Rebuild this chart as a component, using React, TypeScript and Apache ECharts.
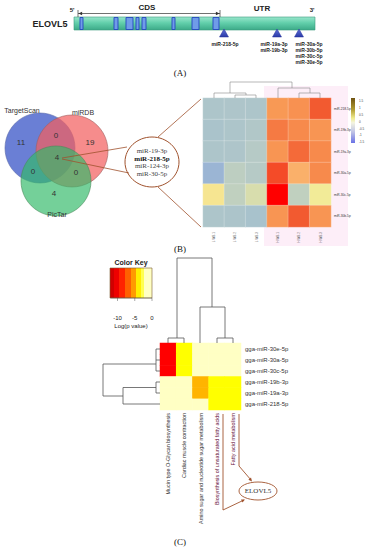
import React, { useEffect, useRef } from 'react';
import * as echarts from 'echarts';

// ---------- Panel A data ----------
const geneName = 'ELOVL5';
const exonX = [80, 114, 126, 136, 142, 172, 192, 213];
const exonW = [3, 4, 7, 3, 4, 3, 7, 6];
const siteX = [224, 277, 299];
const siteLabelX = [225, 274, 309];
const siteLabels = [
  ['miR-218-5p'],
  ['miR-19a-3p', 'miR-19b-3p'],
  ['miR-30a-5p', 'miR-30b-5p', 'miR-30c-5p', 'miR-30e-5p'],
];

// ---------- Panel B data ----------
const vennSets = ['TargetScan', 'miRDB', 'PicTar'];
// only TS, TS∩miRDB, only miRDB, all three, TS∩PicTar, miRDB∩PicTar, only PicTar
const vennCounts = [11, 0, 19, 4, 0, 0, 4];
const consensusMiRNAs = ['miR-19-3p', 'miR-218-5p', 'miR-124-3p', 'miR-30-5p'];

const exprCols = ['L-WB-1', 'L-WB-2', 'L-WB-3', 'H-WB-1', 'H-WB-2', 'H-WB-3'];
const exprRows = ['miR-218-5p', 'miR-19b-3p', 'miR-19a-3p', 'miR-30a-5p', 'miR-30c-5p', 'miR-30b-5p'];
const exprValues = [
  [-0.8, -0.78, -0.8, 0.7, 0.8, 1.2],
  [-0.85, -0.8, -0.7, 1.0, 0.9, 0.75],
  [-0.8, -0.78, -0.6, 0.75, 1.1, 0.9],
  [-1.15, -0.5, -0.6, 1.25, 0.45, 0.9],
  [0.05, -0.45, -0.2, 1.5, -0.45, -0.02],
  [-0.8, -0.82, -0.9, 0.75, 1.2, 0.75],
];
const exprScaleTicks = ['1.5', '1', '0.5', '0', '-0.5', '-1', '-1.5'];

// ---------- Panel C data ----------
const pathwayCols = [
  'Mucin type O-Glycan biosynthesis',
  'Cardiac muscle contraction',
  'Amino sugar and nucleotide sugar metabolism',
  'Biosynthesis of unsaturated fatty acids',
  'Fatty acid metabolism',
];
const pathwayRows = ['gga-miR-30e-5p', 'gga-miR-30a-5p', 'gga-miR-30c-5p', 'gga-miR-19b-3p', 'gga-miR-19a-3p', 'gga-miR-218-5p'];
const logP = [
  [-11, -3, -0.5, -0.5, -0.5],
  [-11, -3, -0.5, -0.5, -0.5],
  [-11, -3, -0.5, -0.5, -0.5],
  [-0.5, -0.5, -5, -3, -3],
  [-0.5, -0.5, -5, -3, -3],
  [-0.5, -0.5, -0.5, -3, -3],
];
const colorKeyTicks = [-10, -5, 0];

const SANS = '"Liberation Sans", Arial, sans-serif';
const SERIF = '"Liberation Serif", "Times New Roman", serif';
const BROWN = '#a0522d';
const DG = '#555';

function txt(text: string, x: number, y: number, font: string, fill = '#222', align = 'center', rotation = 0) {
  return {
    type: 'text',
    z: 20,
    x,
    y,
    rotation,
    style: {
      text,
      x: 0,
      y: 0,
      font,
      fill,
      textAlign: align,
      align,
      textVerticalAlign: 'middle',
      verticalAlign: 'middle',
    },
  };
}
function ln(x1: number, y1: number, x2: number, y2: number, stroke = DG, lw = 0.8) {
  return { type: 'line', z: 15, shape: { x1, y1, x2, y2 }, style: { stroke, lineWidth: lw } };
}
function pl(points: number[][], stroke = DG, lw = 0.8) {
  return { type: 'polyline', z: 15, shape: { points }, style: { stroke, lineWidth: lw, fill: null } };
}
function arrowHead(x1: number, y1: number, x2: number, y2: number, color: string, size = 4) {
  const a = Math.atan2(y2 - y1, x2 - x1);
  const p1 = [x2 - size * Math.cos(a - 0.45), y2 - size * Math.sin(a - 0.45)];
  const p2 = [x2 - size * Math.cos(a + 0.45), y2 - size * Math.sin(a + 0.45)];
  return { type: 'polygon', z: 16, shape: { points: [[x2, y2], p1, p2] }, style: { fill: color } };
}

export default function App() {
  const ref = useRef<HTMLDivElement>(null);
  useEffect(() => {
    document.body.style.margin = '0';
    const chart = echarts.init(ref.current!, null, { renderer: 'svg' });
    const g: any[] = [];

    // ---------- Panel A ----------
    g.push(txt(geneName, 50, 24, `bold 9px ${SANS}`, '#222'));
    g.push(txt("5'", 72, 10, `bold 6px ${SANS}`));
    g.push(txt("3'", 312, 10, `bold 6px ${SANS}`));
    g.push(txt('CDS', 147, 7, `bold 8px ${SANS}`));
    g.push(txt('UTR', 262, 8, `bold 8px ${SANS}`));
    // CDS arrow
    g.push(ln(78, 13.5, 220, 13.5, '#333', 0.7));
    g.push(ln(78, 10, 78, 17, '#333', 0.7));
    g.push(ln(220, 10, 220, 17, '#333', 0.7));
    g.push(arrowHead(90, 13.5, 78.5, 13.5, '#333', 4));
    g.push(arrowHead(208, 13.5, 219.5, 13.5, '#333', 4));
    // gene bar
    g.push({
      type: 'rect', z: 10,
      shape: { x: 74, y: 17, width: 241, height: 13 },
      style: {
        fill: new echarts.graphic.LinearGradient(0, 0, 0, 1, [
          { offset: 0, color: '#9ae6cc' },
          { offset: 0.45, color: '#62cfab' },
          { offset: 1, color: '#3caa88' },
        ]),
        stroke: '#3a9a7c', lineWidth: 0.6,
      },
    });
    exonX.forEach((x, i) => {
      g.push({
        type: 'rect', z: 11,
        shape: { x, y: 17.5, width: exonW[i], height: 12 },
        style: { fill: '#6f9ce8', stroke: '#2546c0', lineWidth: 0.9 },
      });
    });
    siteX.forEach((x, i) => {
      g.push({
        type: 'polygon', z: 12,
        shape: { points: [[x, 29], [x - 4.5, 37], [x + 4.5, 37]] },
        style: {
          fill: new echarts.graphic.LinearGradient(0, 0, 0, 1, [
            { offset: 0, color: '#5f70d8' },
            { offset: 1, color: '#2a3aa8' },
          ]),
          stroke: '#26339a', lineWidth: 0.5,
        },
      });
      siteLabels[i].forEach((s, j) => {
        g.push(txt(s, siteLabelX[i], 43.5 + j * 6, `bold 5px ${SANS}`, '#222'));
      });
    });
    g.push(txt('(A)', 180, 73, `9px ${SERIF}`, '#111'));

    // ---------- Panel B : Venn ----------
    g.push({ type: 'circle', z: 5, shape: { cx: 40, cy: 148, r: 35 }, style: { fill: 'rgba(80,104,206,0.85)', stroke: '#5a6aa8', lineWidth: 0.6 } });
    g.push({ type: 'circle', z: 6, shape: { cx: 72, cy: 151, r: 36 }, style: { fill: 'rgba(242,96,96,0.72)', stroke: '#a06060', lineWidth: 0.6 } });
    g.push({ type: 'circle', z: 7, shape: { cx: 56, cy: 181, r: 35 }, style: { fill: 'rgba(50,185,105,0.68)', stroke: '#4a8a5a', lineWidth: 0.6 } });
    g.push(txt(vennSets[0], 22, 110, `7px ${SANS}`, '#333'));
    g.push(txt(vennSets[1], 83, 112, `7px ${SANS}`, '#333'));
    g.push(txt(vennSets[2], 57, 214, `7px ${SANS}`, '#333'));
    const vennPos = [[21, 142], [56, 135], [90, 142], [57, 157], [33, 171], [76, 172], [54, 193]];
    vennCounts.forEach((c, i) => g.push(txt(String(c), vennPos[i][0], vennPos[i][1], `8px ${SANS}`, '#333')));
    // connecting lines
    g.push(ln(62, 158, 127, 147, BROWN, 0.8));
    g.push(ln(62, 159, 129, 173, BROWN, 0.8));
    g.push(ln(158, 137, 201, 99, BROWN, 0.8));
    g.push(ln(158, 187, 201, 227, BROWN, 0.8));
    g.push({ type: 'ellipse', z: 14, shape: { cx: 152, cy: 162, rx: 27, ry: 25 }, style: { fill: '#fff', stroke: BROWN, lineWidth: 1 } });
    consensusMiRNAs.forEach((m, i) => {
      g.push(txt(m, 152, 151 + i * 7.7, `${i === 1 ? 'bold ' : ''}7px ${SERIF}`, i === 1 ? '#111' : '#444'));
    });

    // ---------- Panel B : heatmap decorations ----------
    g.push({ type: 'rect', z: -1, shape: { x: 264, y: 86, width: 84, height: 160 }, style: { fill: '#fdeef8' } });
    // top dendrogram
    [
      [[230, 93], [230, 82], [292, 82], [292, 88]],
      [[214, 98], [214, 93], [246, 93], [246, 95]],
      [[235, 98], [235, 95], [256, 95], [256, 98]],
      [[278, 98], [278, 88], [310, 88], [310, 93]],
      [[299, 98], [299, 93], [320, 93], [320, 98]],
    ].forEach((p) => g.push(pl(p, '#888', 0.6)));
    // colour scale
    g.push({
      type: 'rect', z: 10,
      shape: { x: 351, y: 98, width: 4, height: 45 },
      style: {
        fill: new echarts.graphic.LinearGradient(0, 0, 0, 1, [
          { offset: 0, color: '#6e5212' },
          { offset: 0.25, color: '#b09a30' },
          { offset: 0.45, color: '#f0ec90' },
          { offset: 0.55, color: '#f4f4e0' },
          { offset: 0.75, color: '#c0c4e6' },
          { offset: 1, color: '#6a72e6' },
        ]),
      },
    });
    exprScaleTicks.forEach((t, i) => g.push(txt(t, 359, 101 + i * 6.8, `3px ${SANS}`, '#444', 'left')));
    g.push(txt('(B)', 180, 249, `9px ${SERIF}`, '#111'));

    // ---------- Panel C : colour key ----------
    g.push(txt('Color Key', 131, 262, `bold 7px ${SANS}`, '#222'));
    const keySteps = [
      [110, 114, '#d00000'],
      [114, 119, '#ee0000'],
      [119, 125, '#ff2200'],
      [125, 131, '#ff6000'],
      [131, 136, '#ff9a00'],
      [136, 141, '#ffee00'],
      [141, 144, '#ffff50'],
      [144, 152, '#ffffc4'],
    ];
    keySteps.forEach(([a, b, c]) => g.push({ type: 'rect', z: 10, shape: { x: a as number, y: 268, width: (b as number) - (a as number), height: 30 }, style: { fill: c as string } }));
    g.push({ type: 'rect', z: 11, shape: { x: 110, y: 268, width: 42, height: 30 }, style: { fill: null, stroke: '#7a5a30', lineWidth: 0.6 } });
    const keyX = (v: number) => 152 + v * 3.45;
    g.push(ln(keyX(-12), 298, 152, 298, '#555', 0.5));
    colorKeyTicks.forEach((t) => {
      g.push(ln(keyX(t), 298, keyX(t), 301, '#555', 0.5));
      g.push(txt(String(t), keyX(t), 318 - 0, `6px ${SANS}`, '#222'));
    });
    g.push(txt('Log(p value)', 131, 326, `6px ${SANS}`, '#222'));

    // top dendrogram C
    [
      [[177, 338], [177, 258], [212, 258], [212, 307]],
      [[168, 343], [168, 338], [184, 338], [184, 343]],
      [[200, 343], [200, 307], [225, 307], [225, 338]],
      [[217, 343], [217, 338], [233, 338], [233, 343]],
    ].forEach((p) => g.push(pl(p, DG, 0.8)));
    // left dendrogram C
    [
      [[160, 349], [156, 349], [156, 371], [160, 371]],
      [[156, 360], [160, 360]],
      [[156, 364], [103, 364], [103, 396], [123, 396]],
      [[160, 382], [156, 382], [156, 393], [160, 393]],
      [[156, 387.5], [123, 387.5], [123, 404], [160, 404]],
    ].forEach((p) => g.push(pl(p, DG, 0.8)));

    // ELOVL5 arrows
    g.push(pl([[223, 414], [223, 510], [244, 500]], BROWN, 0.9));
    g.push(arrowHead(223, 510, 245, 499.5, BROWN, 4));
    g.push(pl([[239, 414], [239, 466], [251, 480]], BROWN, 0.9));
    g.push(arrowHead(239, 466, 252, 481.5, BROWN, 4));
    g.push({ type: 'ellipse', z: 14, shape: { cx: 258, cy: 491, rx: 19, ry: 9 }, style: { fill: '#fff', stroke: BROWN, lineWidth: 0.9 } });
    g.push(txt('ELOVL5', 258, 491, `7px ${SERIF}`, '#333'));
    g.push(txt('(C)', 180, 542, `9px ${SERIF}`, '#111'));

    const exprData: number[][] = [];
    exprValues.forEach((row, r) => row.forEach((v, c) => exprData.push([c, r, v])));
    const pData: number[][] = [];
    logP.forEach((row, r) => row.forEach((v, c) => pData.push([c, r, v])));

    chart.setOption({
      animation: false,
      backgroundColor: '#fff',
      grid: [
        { left: 203, top: 98, width: 128, height: 129 },
        { left: 160, top: 343, width: 81, height: 67 },
      ],
      xAxis: [
        {
          type: 'category', gridIndex: 0, data: exprCols, position: 'bottom',
          axisLine: { show: false }, axisTick: { show: false },
          axisLabel: { rotate: 90, fontSize: 3, margin: 5, color: '#666', fontFamily: SANS },
        },
        {
          type: 'category', gridIndex: 1, data: pathwayCols, position: 'bottom',
          axisLine: { show: false }, axisTick: { show: false },
          axisLabel: {
            rotate: 90, fontSize: 5.4, margin: 3, fontFamily: SANS,
            color: (_v: any, i: number) => (i >= 3 ? '#6a1440' : '#333'),
          },
        },
      ],
      yAxis: [
        {
          type: 'category', gridIndex: 0, data: exprRows, inverse: true, position: 'right',
          axisLine: { show: false }, axisTick: { show: false },
          axisLabel: { fontSize: 3.2, margin: 3, color: '#333', fontFamily: SANS },
        },
        {
          type: 'category', gridIndex: 1, data: pathwayRows, inverse: true, position: 'right',
          axisLine: { show: false }, axisTick: { show: false },
          axisLabel: { fontSize: 6, margin: 4, color: '#333', fontFamily: SANS },
        },
      ],
      visualMap: [
        {
          type: 'continuous', show: false, seriesIndex: 0, min: -1.5, max: 1.5,
          inRange: {
            color: ['#8a9be0', '#98b2d6', '#a8c2cc', '#b6cac6', '#cad6b8', '#f5ec96', '#fbc07a', '#f9a05a', '#f78a4c', '#f25a30', '#ff0000'],
          },
        },
        {
          type: 'piecewise', show: false, seriesIndex: 1,
          pieces: [
            { min: -14, max: -10, color: '#ff0000' },
            { min: -10, max: -8, color: '#ff2a00' },
            { min: -8, max: -6, color: '#ff6a00' },
            { min: -6, max: -4, color: '#ffb400' },
            { min: -4, max: -2, color: '#ffff00' },
            { min: -2, max: 0, color: '#ffffc4' },
          ],
        },
      ],
      series: [
        {
          type: 'heatmap', xAxisIndex: 0, yAxisIndex: 0, data: exprData,
          itemStyle: { borderColor: 'rgba(255,255,255,0.45)', borderWidth: 0.5 },
        },
        {
          type: 'heatmap', xAxisIndex: 1, yAxisIndex: 1, data: pData,
        },
      ],
      graphic: g,
    });
    return () => chart.dispose();
  }, []);
  return <div ref={ref} style={{ width: 365, height: 550 }} />;
}
